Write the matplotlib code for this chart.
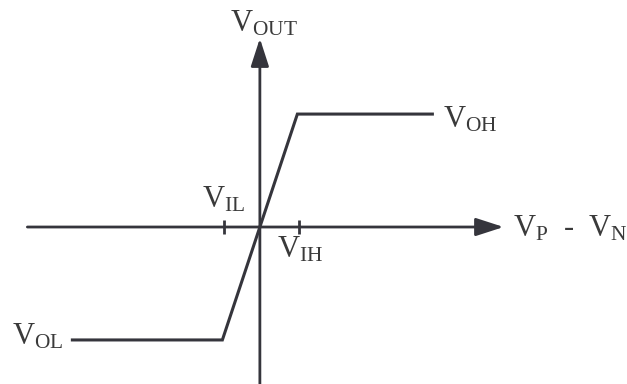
import matplotlib
matplotlib.use("Agg")
import matplotlib.pyplot as plt

# transfer curve of the comparator (normalised units: VIL/VIH = -1/+1, VOL/VOH = -1/+1)
vin = [-5.0, -1.0, 1.0, 4.6]
vout = [-1.0, -1.0, 1.0, 1.0]
tick_x = [-0.95, 1.05]

# labels: text, x, baseline y
label_text = [r"$\mathrm{V_{OUT}}$", r"$\mathrm{V_{IL}}$", r"$\mathrm{V_{IH}}$",
              r"$\mathrm{V_{OH}}$", r"$\mathrm{V_P}$  -  $\mathrm{V_N}$", r"$\mathrm{V_{OL}}$"]
label_x = [-0.8, -1.55, 0.45, 4.88, 6.75, -6.6]
label_y = [1.735, 0.177, -0.274, 0.885, -0.08, -1.044]

plt.rcParams["font.family"] = "Liberation Serif"
plt.rcParams["mathtext.fontset"] = "custom"
plt.rcParams["mathtext.rm"] = "Liberation Serif"

ink = "#35353c"

fig = plt.figure(figsize=(6.27, 3.84), dpi=100)
ax = fig.add_axes([0, 0, 1, 1])
ax.set_xlim(-6.93, 9.79)
ax.set_ylim(-1.39, 2.01)
ax.axis("off")

# axes with arrows
arrow = dict(arrowstyle="-|>,head_length=1.7,head_width=0.55", lw=2.0, color=ink,
             shrinkA=0, shrinkB=0)
ax.annotate("", xy=(6.5, 0), xytext=(-6.2, 0), arrowprops=arrow)
ax.annotate("", xy=(0, 1.67), xytext=(0, -1.5), arrowprops=arrow)

# ticks at VIL / VIH
for t in tick_x:
    ax.plot([t, t], [-0.06, 0.06], color=ink, lw=2.0, solid_capstyle="butt")

ax.plot(vin, vout, color=ink, lw=2.2, solid_joinstyle="miter")

for s, x, y in zip(label_text, label_x, label_y):
    ax.text(x, y, s, fontsize=22, color="#3a3a3a", ha="left", va="baseline")

fig.savefig("out.png", dpi=100)
